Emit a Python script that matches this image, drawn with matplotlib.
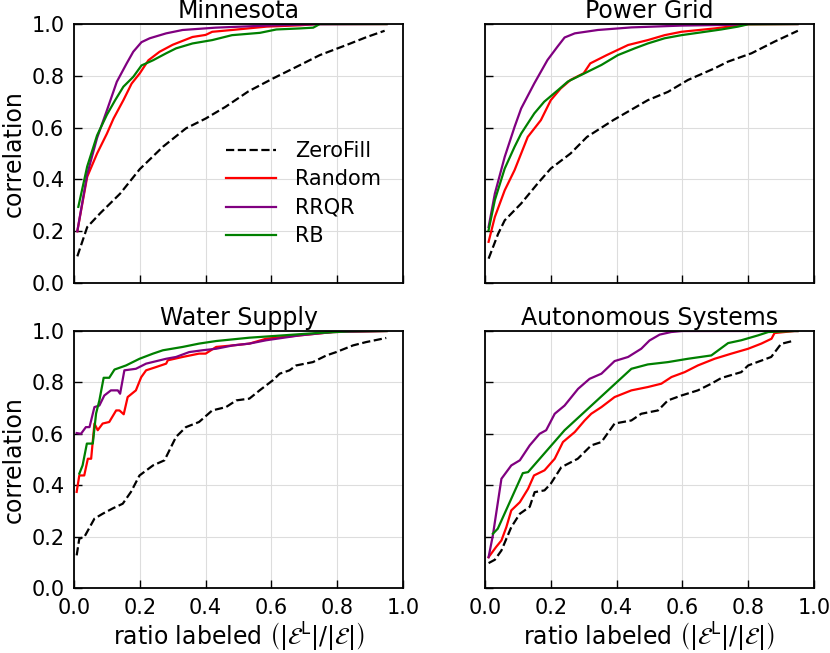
import numpy as np
import matplotlib
matplotlib.use('Agg')
import matplotlib.pyplot as plt

# values
# Minnesota
mn_zero_x = [0.01, 0.04, 0.08, 0.14, 0.20, 0.27, 0.34, 0.40, 0.46, 0.53, 0.605, 0.686, 0.747, 0.83, 0.89, 0.944]
mn_zero_y = [0.103, 0.216, 0.27, 0.345, 0.44, 0.526, 0.597, 0.635, 0.68, 0.74, 0.79, 0.841, 0.88, 0.92, 0.95, 0.974]
mn_rand_x = [0.01, 0.04, 0.07, 0.10, 0.12, 0.15, 0.175, 0.20, 0.226, 0.26, 0.30, 0.36, 0.40, 0.42, 0.48, 0.585, 0.686, 0.74, 0.95]
mn_rand_y = [0.20, 0.41, 0.50, 0.577, 0.635, 0.706, 0.77, 0.81, 0.86, 0.893, 0.92, 0.95, 0.958, 0.97, 0.977, 0.99, 0.995, 1.0, 1.0]
mn_rrqr_x = [0.01, 0.04, 0.07, 0.10, 0.13, 0.16, 0.18, 0.205, 0.23, 0.28, 0.33, 0.43, 0.585, 0.74, 0.95]
mn_rrqr_y = [0.20, 0.42, 0.56, 0.667, 0.777, 0.848, 0.893, 0.93, 0.945, 0.964, 0.977, 0.986, 0.994, 0.999, 1.0]
mn_rb_x = [0.013, 0.04, 0.07, 0.10, 0.125, 0.15, 0.18, 0.205, 0.24, 0.28, 0.31, 0.36, 0.42, 0.48, 0.565, 0.615, 0.686, 0.727, 0.747, 0.95]
mn_rb_y = [0.294, 0.45, 0.57, 0.65, 0.706, 0.758, 0.796, 0.84, 0.86, 0.887, 0.906, 0.925, 0.938, 0.957, 0.966, 0.979, 0.983, 0.986, 1.0, 1.0]

# Power Grid
pg_zero_x = [0.011, 0.04, 0.06, 0.11, 0.16, 0.20, 0.26, 0.31, 0.39, 0.495, 0.556, 0.617, 0.698, 0.739, 0.81, 0.88, 0.951]
pg_zero_y = [0.094, 0.19, 0.242, 0.307, 0.384, 0.442, 0.50, 0.564, 0.629, 0.706, 0.738, 0.784, 0.829, 0.855, 0.887, 0.932, 0.974]
pg_rand_x = [0.011, 0.03, 0.06, 0.09, 0.11, 0.13, 0.17, 0.20, 0.23, 0.26, 0.30, 0.32, 0.37, 0.435, 0.495, 0.546, 0.597, 0.698, 0.80, 0.95]
pg_rand_y = [0.159, 0.255, 0.358, 0.436, 0.50, 0.564, 0.629, 0.706, 0.751, 0.784, 0.81, 0.848, 0.88, 0.919, 0.938, 0.957, 0.97, 0.983, 0.999, 1.0]
pg_rrqr_x = [0.011, 0.03, 0.06, 0.09, 0.11, 0.15, 0.19, 0.22, 0.242, 0.273, 0.343, 0.445, 0.597, 0.749, 0.80, 0.95]
pg_rrqr_y = [0.216, 0.345, 0.487, 0.603, 0.674, 0.771, 0.861, 0.912, 0.948, 0.964, 0.977, 0.987, 0.994, 0.997, 1.0, 1.0]
pg_rb_x = [0.011, 0.03, 0.06, 0.09, 0.11, 0.15, 0.18, 0.222, 0.252, 0.303, 0.354, 0.404, 0.455, 0.495, 0.546, 0.597, 0.658, 0.718, 0.769, 0.80, 0.95]
pg_rb_y = [0.204, 0.32, 0.442, 0.526, 0.577, 0.655, 0.70, 0.745, 0.778, 0.81, 0.842, 0.88, 0.906, 0.925, 0.945, 0.957, 0.968, 0.979, 0.99, 0.999, 1.0]

# Water Supply
ws_zero_x = [0.008, 0.016, 0.031, 0.062, 0.087, 0.118, 0.148, 0.173, 0.199, 0.24, 0.275, 0.29, 0.31, 0.34, 0.38, 0.42, 0.462, 0.493, 0.533, 0.564, 0.604, 0.625, 0.655, 0.675, 0.726, 0.767, 0.797, 0.848, 0.888, 0.949]
ws_zero_y = [0.127, 0.192, 0.198, 0.27, 0.289, 0.31, 0.328, 0.374, 0.438, 0.477, 0.497, 0.536, 0.588, 0.626, 0.646, 0.691, 0.704, 0.73, 0.737, 0.769, 0.808, 0.834, 0.847, 0.866, 0.879, 0.905, 0.918, 0.944, 0.957, 0.973]
ws_rand_x = [0.008, 0.016, 0.031, 0.042, 0.052, 0.062, 0.072, 0.087, 0.107, 0.128, 0.138, 0.151, 0.163, 0.188, 0.204, 0.219, 0.25, 0.28, 0.285, 0.33, 0.38, 0.40, 0.432, 0.483, 0.533, 0.584, 0.686, 0.787, 0.95]
ws_rand_y = [0.374, 0.438, 0.438, 0.503, 0.503, 0.64, 0.614, 0.64, 0.646, 0.691, 0.691, 0.676, 0.743, 0.769, 0.82, 0.847, 0.86, 0.873, 0.886, 0.899, 0.912, 0.912, 0.938, 0.944, 0.951, 0.97, 0.983, 0.996, 1.0]
ws_rrqr_x = [0.008, 0.021, 0.036, 0.047, 0.062, 0.077, 0.092, 0.112, 0.133, 0.14, 0.153, 0.188, 0.219, 0.28, 0.31, 0.35, 0.39, 0.432, 0.483, 0.533, 0.584, 0.686, 0.787, 0.95]
ws_rrqr_y = [0.603, 0.60, 0.626, 0.626, 0.704, 0.71, 0.749, 0.769, 0.769, 0.756, 0.847, 0.853, 0.873, 0.892, 0.899, 0.918, 0.925, 0.931, 0.944, 0.951, 0.964, 0.983, 0.996, 1.0]
ws_rb_x = [0.016, 0.026, 0.039, 0.057, 0.067, 0.077, 0.09, 0.107, 0.123, 0.158, 0.199, 0.24, 0.27, 0.33, 0.38, 0.432, 0.533, 0.635, 0.736, 0.84, 0.95]
ws_rb_y = [0.445, 0.477, 0.562, 0.562, 0.679, 0.73, 0.818, 0.818, 0.85, 0.866, 0.892, 0.912, 0.925, 0.938, 0.951, 0.961, 0.974, 0.983, 0.992, 0.999, 1.0]

# Autonomous Systems
as_zero_x = [0.011, 0.03, 0.05, 0.08, 0.106, 0.136, 0.151, 0.181, 0.20, 0.232, 0.282, 0.323, 0.354, 0.394, 0.445, 0.475, 0.526, 0.556, 0.597, 0.647, 0.688, 0.718, 0.779, 0.80, 0.87, 0.90, 0.941]
as_zero_y = [0.097, 0.11, 0.146, 0.237, 0.289, 0.316, 0.373, 0.38, 0.406, 0.47, 0.503, 0.555, 0.568, 0.64, 0.652, 0.678, 0.691, 0.73, 0.749, 0.769, 0.795, 0.817, 0.84, 0.866, 0.899, 0.95, 0.963]
as_rand_x = [0.011, 0.034, 0.05, 0.065, 0.08, 0.106, 0.131, 0.149, 0.181, 0.212, 0.237, 0.273, 0.303, 0.323, 0.354, 0.394, 0.445, 0.495, 0.536, 0.567, 0.607, 0.647, 0.698, 0.749, 0.80, 0.84, 0.871, 0.88, 0.941, 0.95]
as_rand_y = [0.12, 0.16, 0.185, 0.237, 0.302, 0.334, 0.386, 0.438, 0.458, 0.503, 0.568, 0.607, 0.652, 0.678, 0.704, 0.743, 0.769, 0.782, 0.795, 0.821, 0.84, 0.866, 0.892, 0.912, 0.931, 0.951, 0.97, 0.992, 1.0, 1.0]
as_rrqr_x = [0.011, 0.024, 0.05, 0.08, 0.106, 0.136, 0.166, 0.186, 0.212, 0.242, 0.283, 0.318, 0.354, 0.394, 0.435, 0.475, 0.50, 0.531, 0.566, 0.60, 0.95]
as_rrqr_y = [0.12, 0.205, 0.425, 0.477, 0.497, 0.555, 0.60, 0.614, 0.678, 0.71, 0.775, 0.814, 0.834, 0.883, 0.899, 0.931, 0.963, 0.986, 0.996, 1.0, 1.0]
as_rb_x = [0.024, 0.039, 0.115, 0.131, 0.242, 0.445, 0.495, 0.556, 0.617, 0.688, 0.739, 0.779, 0.83, 0.861, 0.941, 0.95]
as_rb_y = [0.211, 0.231, 0.447, 0.451, 0.614, 0.853, 0.87, 0.879, 0.892, 0.905, 0.953, 0.964, 0.983, 0.996, 1.0, 1.0]

titles = ['Minnesota', 'Power Grid', 'Water Supply', 'Autonomous Systems']
panels = [
    [(mn_zero_x, mn_zero_y), (mn_rand_x, mn_rand_y), (mn_rrqr_x, mn_rrqr_y), (mn_rb_x, mn_rb_y)],
    [(pg_zero_x, pg_zero_y), (pg_rand_x, pg_rand_y), (pg_rrqr_x, pg_rrqr_y), (pg_rb_x, pg_rb_y)],
    [(ws_zero_x, ws_zero_y), (ws_rand_x, ws_rand_y), (ws_rrqr_x, ws_rrqr_y), (ws_rb_x, ws_rb_y)],
    [(as_zero_x, as_zero_y), (as_rand_x, as_rand_y), (as_rrqr_x, as_rrqr_y), (as_rb_x, as_rb_y)],
]
methods = ['ZeroFill', 'Random', 'RRQR', 'RB']
colors = ['black', 'red', 'purple', 'green']
styles = ['--', '-', '-', '-']

fig = plt.figure(figsize=(8.3, 6.53), dpi=100)
boxes = [
    [0.0892, 0.5666, 0.3964, 0.3966],
    [0.5843, 0.5666, 0.3964, 0.3966],
    [0.0892, 0.0995, 0.3964, 0.3936],
    [0.5843, 0.0995, 0.3964, 0.3936],
]
axes = [fig.add_axes(b) for b in boxes]

for i, ax in enumerate(axes):
    for (x, y), name, c, ls in zip(panels[i], methods, colors, styles):
        ax.plot(x, y, color=c, linestyle=ls, linewidth=1.6, label=name)
    ax.set_xlim(0, 1)
    ax.set_ylim(0, 1)
    ax.set_xticks(np.arange(0, 1.01, 0.2))
    ax.set_yticks(np.arange(0, 1.01, 0.2))
    ax.grid(True, color='#dddddd', linewidth=0.8)
    ax.set_axisbelow(True)
    ax.tick_params(direction='in', length=6, width=1, labelsize=15, pad=7,
                   top=False, right=False)
    for sp in ax.spines.values():
        sp.set_linewidth(1.3)
    ax.set_title(titles[i], fontsize=17, pad=4)
    if i % 2 == 0:
        ax.set_ylabel('correlation', fontsize=17, labelpad=4)
    else:
        ax.tick_params(labelleft=False)
    if i >= 2:
        ax.set_xlabel(r'ratio labeled $\left(|\mathcal{E}^{\mathrm{L}}|/|\mathcal{E}|\right)$', fontsize=17, labelpad=2)
    else:
        ax.tick_params(labelbottom=False)

axes[0].legend(loc='lower right', bbox_to_anchor=(0.99, 0.07), frameon=False,
               fontsize=15, handlelength=2.4, handletextpad=0.9, labelspacing=0.4)

fig.savefig('out.png', dpi=100)
